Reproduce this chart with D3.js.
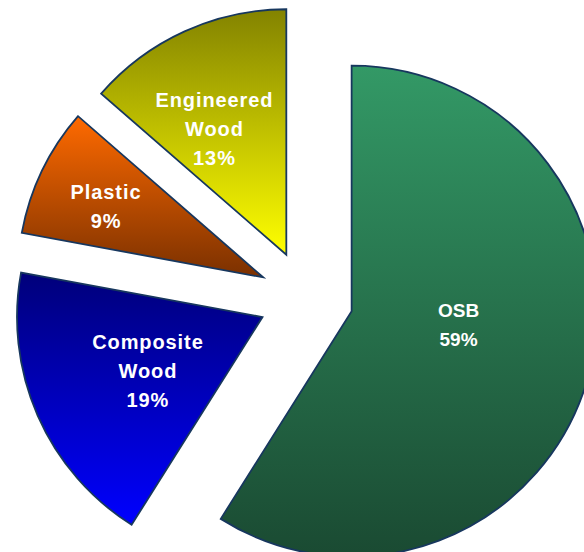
<!DOCTYPE html>
<html>
<head>
<meta charset="utf-8">
<script src="https://cdn.jsdelivr.net/npm/d3@7"></script>
<style>
  html, body { margin: 0; padding: 0; background: #fff; }
  svg { display: block; }
</style>
</head>
<body>
<svg id="chart" width="584" height="552"></svg>
<script>
// slice data, clockwise from 12 o'clock
var categories = ["OSB", "Composite Wood", "Plastic", "Engineered Wood"];
var values = [58.95, 18.95, 8.5, 13.6];          // slice sizes
var pctLabels = ["59%", "19%", "9%", "13%"];      // percentages printed on the chart
var labelLines = [["OSB"], ["Composite", "Wood"], ["Plastic"], ["Engineered", "Wood"]];
var topColors = ["#339966", "#00007a", "#ff6a00", "#838300"];
var bottomColors = ["#1a4a32", "#0000ff", "#7a3000", "#ffff00"];

var cx = 306, cy = 298, R = 245.5, explode = 47.5;

var svg = d3.select("#chart");
var defs = svg.append("defs");

var pie = d3.pie().sort(null).value(function(d){ return d; });
var arcs = pie(values);
var arc = d3.arc().innerRadius(0).outerRadius(R);

// vertical gradient for each slice
arcs.forEach(function(a, i){
  var g = defs.append("linearGradient")
    .attr("id", "grad" + i)
    .attr("x1", 0).attr("y1", 0).attr("x2", 0).attr("y2", 1);
  g.append("stop").attr("offset", "0%").attr("stop-color", topColors[i]);
  g.append("stop").attr("offset", "100%").attr("stop-color", bottomColors[i]);
});

function midAngle(a){ return (a.startAngle + a.endAngle) / 2; }

var slices = svg.selectAll("g.slice")
  .data(arcs)
  .enter().append("g")
  .attr("class", "slice")
  .attr("transform", function(d){
    var m = midAngle(d);
    return "translate(" + (cx + explode * Math.sin(m)) + "," + (cy - explode * Math.cos(m)) + ")";
  });

slices.append("path")
  .attr("d", arc)
  .style("fill", function(d, i){ return "url(#grad" + i + ")"; })
  .style("stroke", "#17375e")
  .style("stroke-width", 1.8)
  .style("stroke-linejoin", "miter");

// label placement: radius along mid angle plus small nudges
var labelR = [106.3, 126.5, 172.3, 144.5];
var nudge = [[4.8, -16.5], [1.3, 3.1], [-2, 4.3], [-12, 5.5]];
var lineH = 29;

slices.append("text")
  .attr("text-anchor", "middle")
  .style("font-family", "'Liberation Sans', Arial, sans-serif")
  .style("font-weight", "bold")
  .style("font-size", function(d, i){ return i === 0 ? "19px" : "20px"; })
  .style("letter-spacing", function(d, i){ return i === 0 ? "0px" : "0.9px"; })
  .style("fill", "#ffffff")
  .each(function(d, i){
    var m = midAngle(d);
    var x = labelR[i] * Math.sin(m) + nudge[i][0];
    var y = -labelR[i] * Math.cos(m) + nudge[i][1];
    var lines = labelLines[i].concat([pctLabels[i]]);
    var first = y - (lines.length - 1) * lineH / 2 + 7;
    var t = d3.select(this);
    lines.forEach(function(s, k){
      t.append("tspan").attr("x", x).attr("y", first + k * lineH).text(s);
    });
  });
</script>
</body>
</html>
